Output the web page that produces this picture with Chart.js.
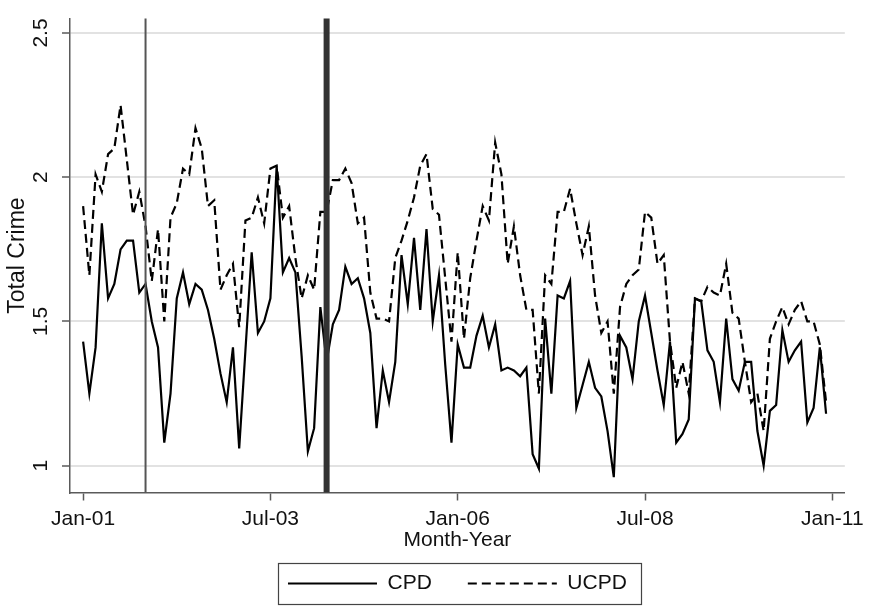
<!DOCTYPE html>
<html>
<head>
<meta charset="utf-8">
<script src="https://cdn.jsdelivr.net/npm/chart.js@4.4.1/dist/chart.umd.min.js"></script>
<style>
  body { margin: 0; background: #fff; }
  #wrap { width: 870px; height: 606px; }
</style>
</head>
<body>
<div id="wrap"><canvas id="crime-chart" width="870" height="606"></canvas></div>
<script>
// monthly values, Jan-01 .. Dec-10
const cpd = [
  1.43, 1.25, 1.41, 1.84, 1.58, 1.63, 1.75, 1.78, 1.78, 1.60, 1.63, 1.50,
  1.41, 1.08, 1.25, 1.58, 1.67, 1.56, 1.63, 1.61, 1.54, 1.44, 1.32, 1.22,
  1.41, 1.06, 1.40, 1.74, 1.46, 1.50, 1.58, 2.04, 1.67, 1.72, 1.67, 1.38,
  1.05, 1.13, 1.55, 1.36, 1.49, 1.54, 1.69, 1.63, 1.65, 1.58, 1.46, 1.13,
  1.33, 1.22, 1.36, 1.73, 1.56, 1.79, 1.54, 1.82, 1.50, 1.66, 1.35, 1.08,
  1.42, 1.34, 1.34, 1.45, 1.52, 1.41, 1.49, 1.33, 1.34, 1.33, 1.31, 1.34,
  1.04, 0.99, 1.51, 1.25, 1.59, 1.58, 1.64, 1.20, 1.28, 1.36, 1.27, 1.24,
  1.12, 0.96, 1.45, 1.41, 1.30, 1.50, 1.59, 1.46, 1.33, 1.21, 1.43, 1.08,
  1.11, 1.16, 1.58, 1.57, 1.40, 1.36, 1.22, 1.51, 1.30, 1.26, 1.36, 1.36,
  1.12, 1.00, 1.19, 1.21, 1.47, 1.36, 1.40, 1.43, 1.15, 1.20, 1.41, 1.18
]
const ucpd = [
  1.90, 1.66, 2.01, 1.95, 2.08, 2.10, 2.25, 2.06, 1.87, 1.95, 1.83, 1.64,
  1.82, 1.50, 1.86, 1.91, 2.03, 2.01, 2.17, 2.10, 1.90, 1.92, 1.61, 1.66,
  1.70, 1.48, 1.85, 1.86, 1.93, 1.84, 2.03, 2.04, 1.86, 1.90, 1.72, 1.58,
  1.66, 1.61, 1.88, 1.88, 1.99, 1.99, 2.03, 1.98, 1.84, 1.86, 1.60, 1.51,
  1.51, 1.50, 1.72, 1.78, 1.85, 1.93, 2.04, 2.08, 1.89, 1.87, 1.65, 1.43,
  1.74, 1.44, 1.65, 1.78, 1.90, 1.85, 2.12, 2.01, 1.70, 1.83, 1.66, 1.54,
  1.54, 1.25, 1.66, 1.63, 1.88, 1.88, 1.96, 1.84, 1.73, 1.83, 1.59, 1.46,
  1.50, 1.25, 1.55, 1.63, 1.66, 1.68, 1.88, 1.86, 1.70, 1.73, 1.43, 1.27,
  1.36, 1.25, 1.58, 1.57, 1.62, 1.60, 1.59, 1.70, 1.53, 1.51, 1.36, 1.22,
  1.25, 1.12, 1.44, 1.50, 1.55, 1.49, 1.54, 1.57, 1.50, 1.50, 1.42, 1.22
]
const tickMonths = [0, 30, 60, 90, 120]
const tickLabels = ['Jan-01', 'Jul-03', 'Jan-06', 'Jul-08', 'Jan-11']
const yTicks = [1, 1.5, 2, 2.5]
const eventMonths = [10, 39] // Nov-01, Apr-04

const months = cpd.map((_, i) => i)
const toPoints = values => values.map((y, i) => ({ x: months[i], y }))

const family = "'Liberation Sans', Arial, sans-serif"
const font = { family, size: 21 }
const textColor = '#111'
const axisGray = '#5a5a5a'

const eventLines = {
  id: 'eventLines',
  afterDatasetsDraw(chart) {
    const { ctx, chartArea: { top, bottom }, scales: { x } } = chart
    const looks = [{ w: 2, c: '#555' }, { w: 6, c: '#333' }]
    ctx.save()
    eventMonths.forEach((m, i) => {
      const px = x.getPixelForValue(m)
      ctx.strokeStyle = looks[i].c
      ctx.lineWidth = looks[i].w
      ctx.beginPath()
      ctx.moveTo(px, top)
      ctx.lineTo(px, bottom)
      ctx.stroke()
    })
    ctx.restore()
  }
}

const legendFrame = {
  id: 'legendFrame',
  afterDraw(chart) {
    const boxes = chart.legend && chart.legend.legendHitBoxes
    if (!boxes || !boxes.length) return
    const left = Math.min(...boxes.map(b => b.left)) - 10
    const right = Math.max(...boxes.map(b => b.left + b.width)) + 14
    const top = Math.min(...boxes.map(b => b.top)) - 10
    const bottom = Math.max(...boxes.map(b => b.top + b.height)) + 10
    const { ctx } = chart
    ctx.save()
    ctx.strokeStyle = '#444'
    ctx.lineWidth = 1.2
    ctx.strokeRect(Math.round(left) + 0.5, Math.round(top) + 0.5, Math.round(right - left), Math.round(bottom - top))
    ctx.restore()
  }
}

// legend samples take the dash of their dataset
const dashedLabels = chart =>
  Chart.defaults.plugins.legend.labels.generateLabels(chart).map((item, i) => ({
    ...item,
    lineDash: chart.data.datasets[i].borderDash || []
  }))

new Chart(document.getElementById('crime-chart'), {
  type: 'line',
  data: {
    datasets: [
      { label: 'CPD', data: toPoints(cpd), borderColor: '#000', borderWidth: 2.2, pointRadius: 0, tension: 0 },
      { label: 'UCPD', data: toPoints(ucpd), borderColor: '#000', borderWidth: 2.2, borderDash: [9, 5], pointRadius: 0, tension: 0 }
    ]
  },
  options: {
    responsive: false,
    animation: false,
    devicePixelRatio: 1,
    events: [],
    layout: { padding: { top: 12, right: 22, bottom: 2, left: 0 }, autoPadding: false },
    plugins: {
      legend: {
        position: 'bottom',
        fullSize: false,
        labels: {
          usePointStyle: true,
          pointStyle: 'line',
          pointStyleWidth: 89,
          padding: 36,
          color: textColor,
          font,
          generateLabels: dashedLabels
        }
      },
      tooltip: { enabled: false }
    },
    scales: {
      x: {
        type: 'linear',
        min: -2.1,
        max: 122,
        afterBuildTicks: s => { s.ticks = tickMonths.map(value => ({ value })) },
        afterFit: s => { s.height = 44.5 },
        ticks: { callback: (v, i) => tickLabels[i], color: textColor, font, padding: 6, maxRotation: 0, autoSkip: false },
        grid: { drawOnChartArea: false, tickLength: 8, tickColor: axisGray, tickWidth: 1.5 },
        border: { color: axisGray, width: 1.5 },
        title: { display: true, text: 'Month-Year', color: textColor, font, padding: { top: 0, bottom: -15.5 } }
      },
      y: {
        min: 0.907,
        max: 2.55,
        afterBuildTicks: s => { s.ticks = yTicks.map(value => ({ value })) },
        afterFit: s => { s.width = 70 },
        ticks: { callback: v => String(v), minRotation: 90, maxRotation: 90, crossAlign: 'center', padding: 6, color: textColor, font },
        grid: { color: '#e2e2e2', lineWidth: 2, tickLength: 8, tickColor: axisGray, tickWidth: 1.5 },
        border: { color: axisGray, width: 1.5 },
        title: { display: true, text: 'Total Crime', color: textColor, font: { family, size: 23 }, padding: { top: 4, bottom: 0 } }
      }
    }
  },
  plugins: [eventLines, legendFrame]
})
</script>
</body>
</html>
